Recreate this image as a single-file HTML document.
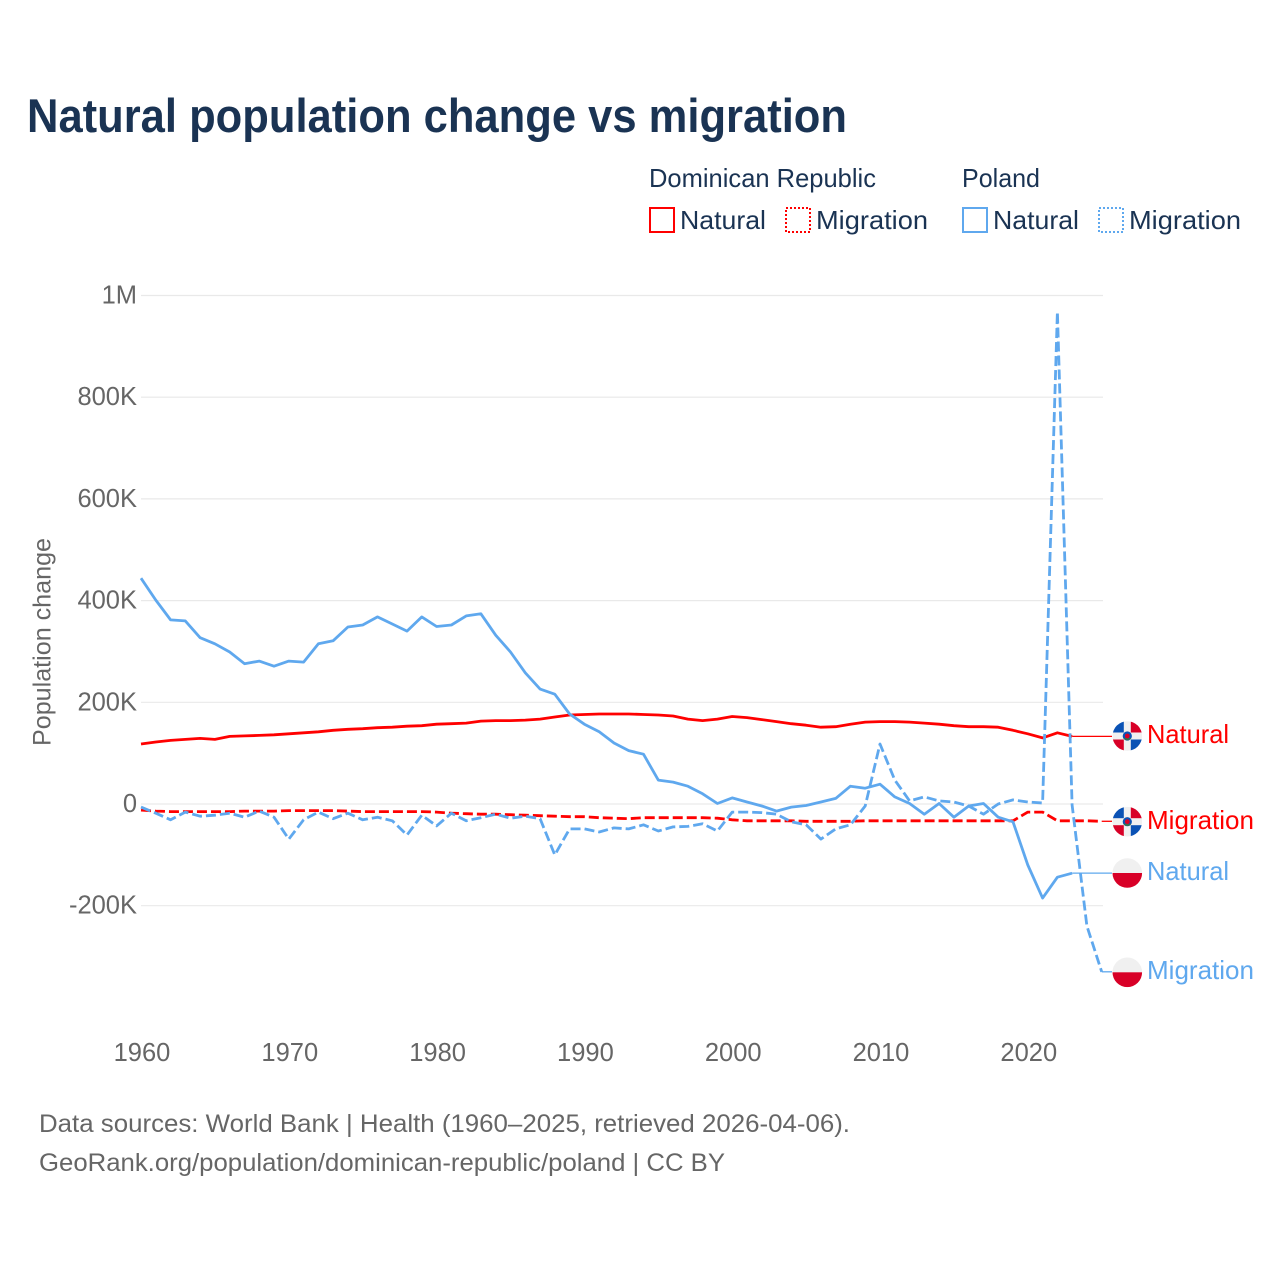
<!DOCTYPE html>
<html lang="en">
<head>
<meta charset="utf-8">
<title>Natural population change vs migration</title>
<style>
html,body{margin:0;padding:0;background:#fff;}
svg{display:block;font-family:"Liberation Sans",sans-serif;}
</style>
</head>
<body>
<svg id="chart" xmlns="http://www.w3.org/2000/svg" width="1280" height="1280" viewBox="0 0 1280 1280">
<rect x="0" y="0" width="1280" height="1280" fill="#fff"/>
<text x="27" y="132" font-size="47" font-weight="700" fill="#1a3353" textLength="820" lengthAdjust="spacingAndGlyphs">Natural population change vs migration</text>

<g font-size="26" fill="#1a3353">
<text x="649" y="187" textLength="227" lengthAdjust="spacingAndGlyphs">Dominican Republic</text>
<text x="962" y="187" textLength="78" lengthAdjust="spacingAndGlyphs">Poland</text>
<rect x="650" y="208" width="24" height="24" fill="none" stroke="#ff0000" stroke-width="2"/>
<text x="680" y="229" textLength="86" lengthAdjust="spacingAndGlyphs">Natural</text>
<rect x="786" y="208" width="24" height="24" fill="none" stroke="#ff0000" stroke-width="2" stroke-dasharray="2 2"/>
<text x="816" y="229" textLength="112" lengthAdjust="spacingAndGlyphs">Migration</text>
<rect x="963" y="208" width="24" height="24" fill="none" stroke="#5fa8ee" stroke-width="2"/>
<text x="993" y="229" textLength="86" lengthAdjust="spacingAndGlyphs">Natural</text>
<rect x="1099" y="208" width="24" height="24" fill="none" stroke="#5fa8ee" stroke-width="2" stroke-dasharray="2 2"/>
<text x="1129" y="229" textLength="112" lengthAdjust="spacingAndGlyphs">Migration</text>
</g>

<text transform="translate(50.5 642) rotate(-90)" text-anchor="middle" font-size="25" fill="#666" textLength="208" lengthAdjust="spacingAndGlyphs">Population change</text>

<g id="grid"></g>
<g id="xticks"></g>
<g id="series"></g>

<g>
<g transform="translate(1127.3 736)">
<clipPath id="c1"><circle r="14.8"/></clipPath>
<g clip-path="url(#c1)"><rect x="-15" y="-15" width="30" height="30" fill="#f0f0f0"/><rect x="-15" y="-15" width="11.5" height="11.5" fill="#0a52b5"/><rect x="3.5" y="3.5" width="11.5" height="11.5" fill="#0a52b5"/><rect x="3.5" y="-15" width="11.5" height="11.5" fill="#d80027"/><rect x="-15" y="3.5" width="11.5" height="11.5" fill="#d80027"/><circle r="4.6" fill="#0a52b5"/><path d="M-4 2a4.6 4.6 0 0 0 8 0z" fill="#2f6f52"/><circle r="2.4" fill="#d80027"/></g>
</g>
<text x="1147" y="743" font-size="26" fill="#ff0000" textLength="82" lengthAdjust="spacingAndGlyphs">Natural</text>
</g>
<g>
<g transform="translate(1127.3 821.7)">
<clipPath id="c2"><circle r="14.8"/></clipPath>
<g clip-path="url(#c2)"><rect x="-15" y="-15" width="30" height="30" fill="#f0f0f0"/><rect x="-15" y="-15" width="11.5" height="11.5" fill="#0a52b5"/><rect x="3.5" y="3.5" width="11.5" height="11.5" fill="#0a52b5"/><rect x="3.5" y="-15" width="11.5" height="11.5" fill="#d80027"/><rect x="-15" y="3.5" width="11.5" height="11.5" fill="#d80027"/><circle r="4.6" fill="#0a52b5"/><path d="M-4 2a4.6 4.6 0 0 0 8 0z" fill="#2f6f52"/><circle r="2.4" fill="#d80027"/></g>
</g>
<text x="1147" y="829" font-size="26" fill="#ff0000" textLength="107" lengthAdjust="spacingAndGlyphs">Migration</text>
</g>
<g>
<g transform="translate(1127.3 873)">
<clipPath id="c3"><circle r="14.8"/></clipPath>
<g clip-path="url(#c3)"><rect x="-15" y="-15" width="30" height="15" fill="#f0f0f0"/><rect x="-15" y="0" width="30" height="15" fill="#d80027"/></g>
</g>
<text x="1147" y="880" font-size="26" fill="#5fa8ee" textLength="82" lengthAdjust="spacingAndGlyphs">Natural</text>
</g>
<g>
<g transform="translate(1127.3 972.3)">
<clipPath id="c4"><circle r="14.8"/></clipPath>
<g clip-path="url(#c4)"><rect x="-15" y="-15" width="30" height="15" fill="#f0f0f0"/><rect x="-15" y="0" width="30" height="15" fill="#d80027"/></g>
</g>
<text x="1147" y="979" font-size="26" fill="#5fa8ee" textLength="107" lengthAdjust="spacingAndGlyphs">Migration</text>
</g>

<g font-size="25" fill="#666">
<text x="39" y="1132" textLength="811" lengthAdjust="spacingAndGlyphs">Data sources: World Bank | Health (1960–2025, retrieved 2026-04-06).</text>
<text x="39" y="1171" textLength="686" lengthAdjust="spacingAndGlyphs">GeoRank.org/population/dominican-republic/poland | CC BY</text>
</g>

<script>
const startYear = 1960;
const yTickValues = [1000, 800, 600, 400, 200, 0, -200];
const yTickLabels = ["1M", "800K", "600K", "400K", "200K", "0", "-200K"];
const xTickYears = [1960, 1970, 1980, 1990, 2000, 2010, 2020];
const drNatural = [118,122,125,127,129,127,133,134,135,136,138,140,142,145,147,148,150,151,153,154,157,158,159,163,164,164,165,167,171,175,176,177,177,177,176,175,173,167,164,167,172,170,166,162,158,155,151,152,157,161,162,162,161,159,157,154,152,152,151,145,138,130,140,133];
const drMigration = [-12,-14,-15,-15,-15,-15,-15,-14,-14,-14,-13,-13,-13,-13,-14,-15,-15,-15,-15,-15,-16,-18,-19,-20,-20,-21,-22,-23,-24,-25,-25,-27,-28,-29,-27,-27,-27,-27,-27,-28,-31,-33,-33,-33,-33,-34,-34,-34,-34,-33,-33,-33,-33,-33,-33,-33,-33,-33,-33,-33,-16,-16,-33,-33,-33,-34];
const plNatural = [444,401,362,360,327,315,299,276,281,271,281,279,315,321,348,352,368,354,340,368,349,352,370,374,332,299,258,226,216,177,157,142,120,105,98,47,43,35,20,1,12,4,-4,-14,-6,-3,4,11,35,31,39,14,1,-20,1,-26,-4,1,-26,-35,-120,-185,-144,-136];
const plMigration = [-6,-18,-31,-16,-24,-22,-18,-26,-14,-26,-69,-31,-16,-29,-18,-31,-26,-33,-61,-22,-43,-18,-33,-27,-20,-28,-24,-29,-100,-49,-49,-55,-47,-49,-41,-53,-45,-44,-39,-53,-16,-16,-17,-20,-35,-41,-69,-49,-41,-4,118,47,6,14,6,4,-4,-20,0,8,4,2,968,-2,-240,-330];

const NS = 'http://www.w3.org/2000/svg';
const xScale = function (year) { return 141 + (year - 1960) * 14.78; };
const yScale = function (v) { return 804 - v * 0.5085; };
const leaderEndX = 1112;

function make(tag, attrs, parent) {
  const el = document.createElementNS(NS, tag);
  for (const k in attrs) el.setAttribute(k, attrs[k]);
  parent.appendChild(el);
  return el;
}

const grid = document.getElementById('grid');
yTickValues.forEach(function (v, i) {
  const line = make('line', {x1: 141, x2: 1103, y1: yScale(v), y2: yScale(v), stroke: '#e9e9e9', 'stroke-width': 1.2}, grid);
  
  
  const t = make('text', {x: 137, y: yScale(v) + 8, 'text-anchor': 'end', 'font-size': 25.5, fill: '#666'}, grid);
  
  
  t.textContent = yTickLabels[i];
});

const xticks = document.getElementById('xticks');
xTickYears.forEach(function (yr) {
  const t = make('text', {x: xScale(yr) + 1, y: 1061, 'text-anchor': 'middle', 'font-size': 25.5, fill: '#666'}, xticks);
  
  
  t.textContent = yr;
});

function drawSeries(values, color, dash, name) {
  const g = document.getElementById('series');
  const pts = values.map(function (v, i) { return xScale(startYear + i).toFixed(1) + ',' + yScale(v).toFixed(1); }).join(' ');
  const lastX = xScale(startYear + values.length - 1);
  const lastY = yScale(values[values.length - 1]);
  const leader = make('line', {x1: lastX, y1: lastY, x2: leaderEndX, y2: lastY, stroke: color, 'stroke-width': 1.3}, g);
  
  
  const attrs = {points: pts, fill: 'none', stroke: color, 'stroke-width': 2.8, 'stroke-linejoin': 'round'};
  if (dash) attrs['stroke-dasharray'] = dash;
  const line = make('polyline', attrs, g);
  
  
}

drawSeries(drNatural, '#ff0000', null, 'line-dr-natural');
drawSeries(drMigration, '#ff0000', '10 4', 'line-dr-migration');
drawSeries(plNatural, '#5fa8ee', null, 'line-poland-natural');
drawSeries(plMigration, '#5fa8ee', '10 4', 'line-poland-migration');
</script>
</svg>
</body>
</html>
